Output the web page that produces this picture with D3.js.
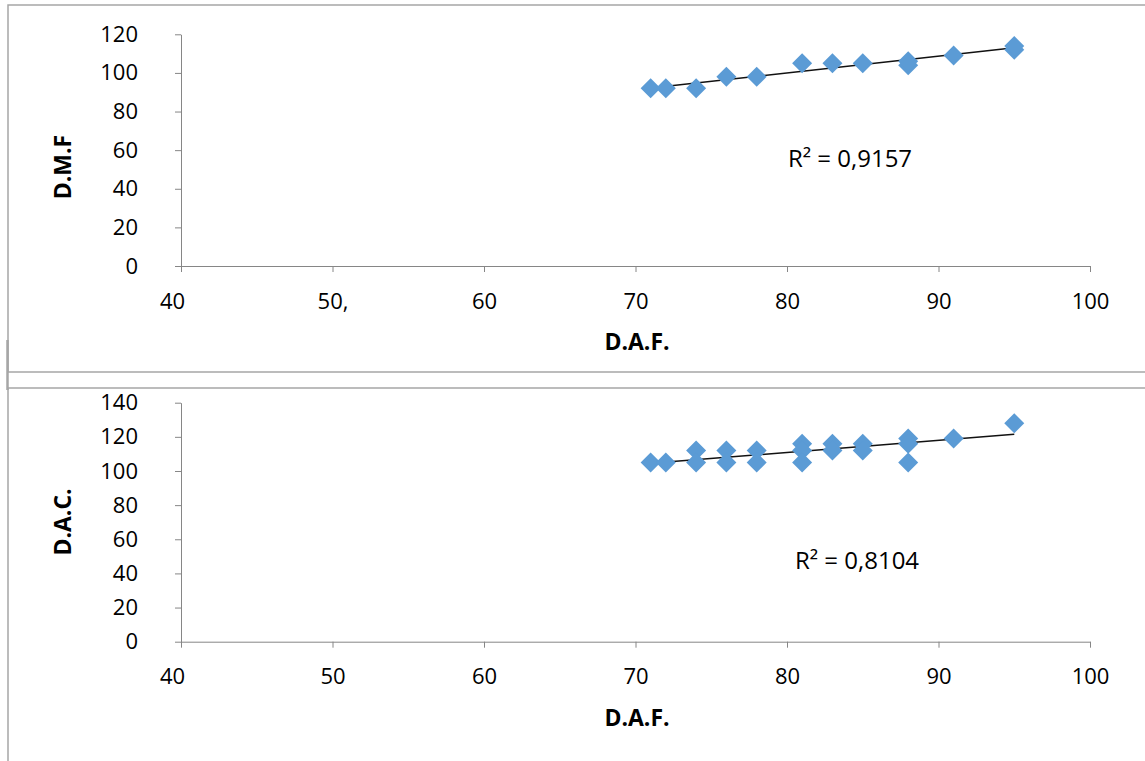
<!DOCTYPE html>
<html>
<head>
<meta charset="utf-8">
<script src="https://cdn.jsdelivr.net/npm/d3@7"></script>
<style>
    body { margin: 0; background: #fff; }
    svg { display: block; }
    text { font-family: "Open Sans", "Noto Sans", sans-serif; fill: #000; }
    .axis path, .axis line { stroke: #868686; stroke-width: 1; }
    .axis text { font-size: 22px; }
    .axis-title { font-size: 23px; font-weight: bold; }
    .r2 { font-size: 24px; }
</style>
</head>
<body>
<div id="chart"></div>
<script>
// D.A.F. vs D.M.F (top chart)
const dafTop = [71, 72, 74, 76, 78, 81, 83, 85, 88, 88, 91, 95, 95];
const dmf = [92, 92, 92, 98, 98, 105, 105, 105, 104, 106, 109, 112, 114];

// D.A.F. vs D.A.C. (bottom chart)
const dafBottom = [71, 72, 74, 74, 76, 76, 78, 78, 81, 81, 81, 83, 83, 85, 85, 88, 88, 88, 91, 95];
const dac = [105, 105, 112, 105, 112, 105, 112, 105, 116, 112, 105, 116, 112, 116, 112, 119, 116, 105, 119, 128];

// tick labels
const xTicks = [40, 50, 60, 70, 80, 90, 100];
const xLabelsTop = ['40', '50,', '60', '70', '80', '90', '100'];
const xLabelsBottom = ['40', '50', '60', '70', '80', '90', '100'];
const yTicksTop = [0, 20, 40, 60, 80, 100, 120];
const yTicksBottom = [0, 20, 40, 60, 80, 100, 120, 140];

const width = 1145;
const height = 761;

const svg = d3.select('#chart')
    .append('svg')
    .attr('width', width)
    .attr('height', height);

// panel frames
svg.append('rect')
    .attr('x', 8).attr('y', 5)
    .attr('width', 1160).attr('height', 367)
    .attr('fill', 'none')
    .attr('stroke', '#a6a6a6')
    .attr('stroke-width', 1.5);

svg.append('rect')
    .attr('x', 8).attr('y', 388)
    .attr('width', 1160).attr('height', 400)
    .attr('fill', 'none')
    .attr('stroke', '#a6a6a6')
    .attr('stroke-width', 1.5);

// little stub where the two frames meet
svg.append('line')
    .attr('x1', 7.5).attr('y1', 340)
    .attr('x2', 7.5).attr('y2', 390)
    .attr('stroke', '#a6a6a6')
    .attr('stroke-width', 2.5);

// simple least squares fit
function linearFit(xs, ys) {
    const n = xs.length;
    const mx = d3.mean(xs);
    const my = d3.mean(ys);
    let sxy = 0, sxx = 0;
    for (let i = 0; i < n; i++) {
        sxy += (xs[i] - mx) * (ys[i] - my);
        sxx += (xs[i] - mx) * (xs[i] - mx);
    }
    const slope = sxy / sxx;
    return { slope: slope, intercept: my - slope * mx };
}

function drawPanel(cfg) {
    const xScale = d3.scaleLinear().domain([40, 100]).range([181, 1090]);
    const yScale = d3.scaleLinear().domain(cfg.yDomain).range(cfg.yRange);
    const axisY = cfg.yRange[0];

    // x axis
    const xAxis = svg.append('g')
        .attr('class', 'axis')
        .attr('transform', `translate(0,${axisY})`)
        .call(d3.axisBottom(xScale)
            .tickValues(xTicks)
            .tickSize(6)
            .tickSizeOuter(0)
            .tickPadding(21)
            .tickFormat((d, i) => cfg.xLabels[i]));
    xAxis.selectAll('.tick text')
        .attr('dx', (d, i) => (i === 0 ? -9 : 0));

    // y axis
    svg.append('g')
        .attr('class', 'axis')
        .attr('transform', 'translate(181,0)')
        .call(d3.axisLeft(yScale)
            .tickValues(cfg.yTicks)
            .tickSize(6)
            .tickSizeOuter(0)
            .tickPadding(37));

    // axis titles
    svg.append('text')
        .attr('class', 'axis-title')
        .attr('x', 637)
        .attr('y', axisY + 84)
        .attr('text-anchor', 'middle')
        .text('D.A.F.');

    svg.append('text')
        .attr('class', 'axis-title')
        .attr('transform', `translate(71,${cfg.yTitleY}) rotate(-90)`)
        .attr('text-anchor', 'middle')
        .text(cfg.yTitle);

    // trend line
    const fit = linearFit(cfg.xs, cfg.ys);
    const x0 = d3.min(cfg.xs);
    const x1 = d3.max(cfg.xs);
    svg.append('line')
        .attr('x1', xScale(x0))
        .attr('y1', yScale(fit.intercept + fit.slope * x0))
        .attr('x2', xScale(x1))
        .attr('y2', yScale(fit.intercept + fit.slope * x1))
        .attr('stroke', '#111')
        .attr('stroke-width', 1.5);

    // markers
    const diamond = d3.symbol().type(d3.symbolSquare).size(200);
    svg.append('g')
        .selectAll('path')
        .data(cfg.xs.map((x, i) => ({ x: x, y: cfg.ys[i] })))
        .enter()
        .append('path')
        .attr('d', diamond)
        .attr('transform', (d) => `translate(${xScale(d.x)},${yScale(d.y)}) rotate(45)`)
        .attr('fill', '#5b9bd5');

    // R² label
    svg.append('text')
        .attr('class', 'r2')
        .attr('x', cfg.r2x)
        .attr('y', cfg.r2y)
        .attr('text-anchor', 'middle')
        .text(cfg.r2);
}

drawPanel({
    xs: dafTop,
    ys: dmf,
    xLabels: xLabelsTop,
    yTicks: yTicksTop,
    yDomain: [0, 120],
    yRange: [266, 34.3],
    yTitle: 'D.M.F',
    yTitleY: 167,
    r2: 'R² = 0,9157',
    r2x: 850,
    r2y: 167
});

drawPanel({
    xs: dafBottom,
    ys: dac,
    xLabels: xLabelsBottom,
    yTicks: yTicksBottom,
    yDomain: [0, 140],
    yRange: [641.7, 402.7],
    yTitle: 'D.A.C.',
    yTitleY: 522,
    r2: 'R² = 0,8104',
    r2x: 857,
    r2y: 569
});
</script>
</body>
</html>
